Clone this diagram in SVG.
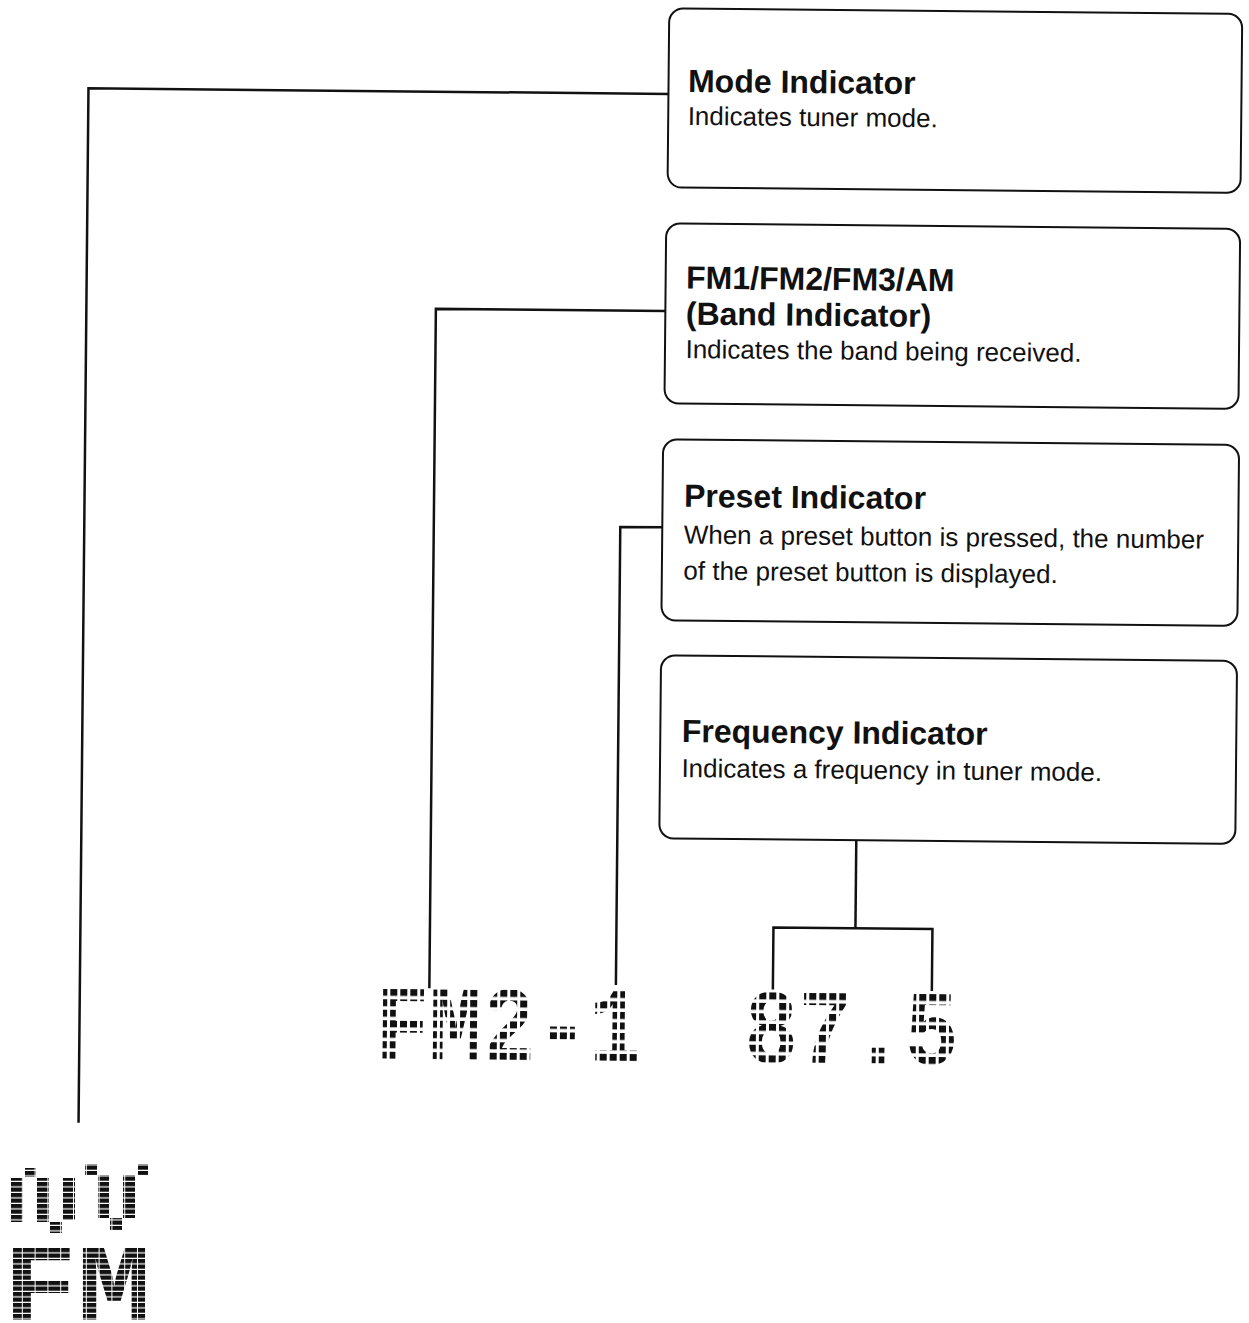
<svg xmlns="http://www.w3.org/2000/svg" width="1249" height="1323" viewBox="0 0 1249 1323">
<style>
.box{fill:#fff;stroke:#111;stroke-width:2}
.conn{fill:none;stroke:#111;stroke-width:2.5}
.h{font-family:"Liberation Sans",Arial,sans-serif;font-weight:bold;font-size:32px;fill:#111}
.b{font-family:"Liberation Sans",Arial,sans-serif;font-size:26px;fill:#111}
.lcd{font-family:"Liberation Mono","DejaVu Sans Mono",monospace;font-weight:bold;font-size:106px}
.lcd2{font-family:"Liberation Mono","DejaVu Sans Mono",monospace;font-weight:bold;font-size:110px}
</style>
<defs>
<pattern id="dotsA" patternUnits="userSpaceOnUse" x="383.5" y="991" width="10" height="10.5"><rect width="7" height="7" fill="#111"/></pattern>
<pattern id="dotsB" patternUnits="userSpaceOnUse" x="752.5" y="991" width="10" height="10.5"><rect width="7" height="7" fill="#111"/></pattern>
<pattern id="bars" patternUnits="userSpaceOnUse" x="10" y="1248" width="12.8" height="5.5"><rect width="11.8" height="4.3" fill="#111"/></pattern>
</defs>
<g transform="rotate(0.55 624 661)">
<g id="connectors">
<polyline class="conn" points="663,93.5 83,93.5 83,1128"/>
<polyline class="conn" points="662,310.7 432.5,310.7 432.5,990"/>
<polyline class="conn" points="661,527 619,527 619,985"/>
<polyline class="conn" points="858,837.5 858,926"/>
<polyline class="conn" points="776,988 776,926 935,926 935,988"/>
</g>
<g id="mode-indicator">
<rect class="box" x="663" y="8" width="573" height="179" rx="14"/>
<text class="h" x="682.5" y="91.3">Mode Indicator</text>
<text class="b" x="682.5" y="124.3">Indicates tuner mode.</text>
</g>
<g id="band-indicator">
<rect class="box" x="662" y="223" width="574" height="180" rx="14"/>
<text class="h" x="682.5" y="288"><tspan x="682.5" y="288">FM1/FM2/FM3/AM</tspan><tspan x="682.5" y="324">(Band Indicator)</tspan></text>
<text class="b" x="682.5" y="357.5">Indicates the band being received.</text>
</g>
<g id="preset-indicator">
<rect class="box" x="661" y="439" width="576" height="181" rx="14"/>
<text class="h" x="682.5" y="506.3">Preset Indicator</text>
<text class="b" x="682.5" y="543">When a preset button is pressed, the number</text>
<text class="b" x="682.5" y="579">of the preset button is displayed.</text>
</g>
<g id="frequency-indicator">
<rect class="box" x="661" y="655" width="576" height="183" rx="14"/>
<text class="h" x="682.5" y="741.4">Frequency Indicator</text>
<text class="b" x="682.5" y="776.5">Indicates a frequency in tuner mode.</text>
</g>
<g id="tuner-display">
<text class="lcd" x="379" y="1061" textLength="267" lengthAdjust="spacingAndGlyphs" fill="url(#dotsA)">FM2-1</text>
<text class="lcd" x="748" y="1061" textLength="214" lengthAdjust="spacingAndGlyphs" fill="url(#dotsB)">87.5</text>
</g>
</g>
<g id="mode-display" fill="url(#bars)">
<rect x="25" y="1168" width="11" height="9"/>
<rect x="11" y="1178" width="12" height="44"/>
<rect x="37" y="1178" width="12" height="44"/>
<rect x="50" y="1222" width="12" height="11"/>
<rect x="63" y="1178" width="12" height="42"/>
<rect x="85" y="1164" width="12" height="11"/>
<rect x="98" y="1175" width="11" height="43"/>
<rect x="110" y="1218" width="12" height="12"/>
<rect x="123" y="1175" width="12" height="43"/>
<rect x="137" y="1164" width="11" height="11"/>
<text class="lcd2" x="3" y="1320" textLength="148" lengthAdjust="spacingAndGlyphs">FM</text>
</g>
</svg>
